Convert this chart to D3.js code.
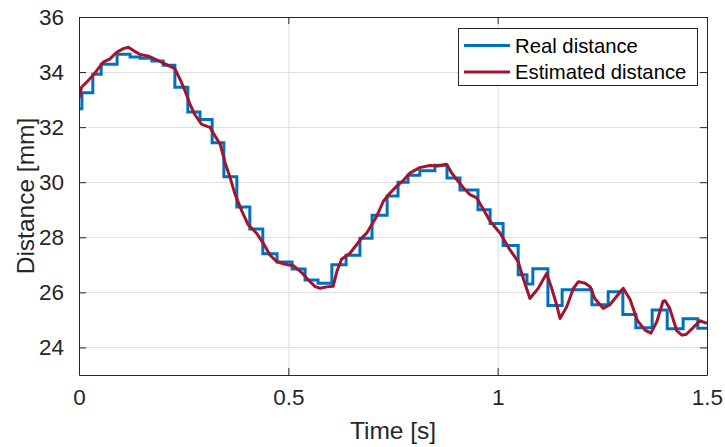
<!DOCTYPE html>
<html>
<head>
<meta charset="utf-8">
<script src="https://cdn.jsdelivr.net/npm/d3@7"></script>
<style>
  html, body { margin: 0; padding: 0; background: #fff; }
  svg { display: block; font-family: "Liberation Sans", Arial, Helvetica, sans-serif; }
</style>
</head>
<body>
<svg id="chart" width="725" height="447"></svg>
<script>
// ---- Data ----
const realTime = [0, 0.007, 0.033, 0.053, 0.091, 0.122, 0.146, 0.174, 0.201, 0.229, 0.260, 0.289, 0.318, 0.346, 0.377, 0.408, 0.439, 0.473, 0.509, 0.540, 0.571, 0.604, 0.638, 0.671, 0.700, 0.736, 0.762, 0.786, 0.814, 0.850, 0.879, 0.910, 0.953, 0.982, 1.013, 1.049, 1.070, 1.084, 1.120, 1.154, 1.189, 1.225, 1.264, 1.299, 1.330, 1.369, 1.405, 1.443, 1.478, 1.5];
const realDistance = [32.67, 33.25, 33.92, 34.28, 34.65, 34.55, 34.5, 34.4, 34.25, 33.45, 32.55, 32.28, 31.43, 30.2, 29.1, 28.3, 27.4, 27.1, 26.85, 26.45, 26.33, 27.0, 27.35, 27.97, 28.8, 29.5, 30.0, 30.25, 30.42, 30.62, 30.15, 29.72, 29.0, 28.5, 27.7, 26.64, 26.3, 26.86, 25.52, 26.1, 26.1, 25.55, 26.02, 25.2, 24.72, 25.36, 24.68, 25.04, 24.7, 24.7];

const estTime = [0, 0.006, 0.022, 0.038, 0.058, 0.074, 0.090, 0.106, 0.118, 0.130, 0.146, 0.166, 0.189, 0.209, 0.229, 0.241, 0.253, 0.265, 0.277, 0.293, 0.313, 0.325, 0.337, 0.349, 0.361, 0.373, 0.389, 0.404, 0.424, 0.440, 0.456, 0.472, 0.492, 0.512, 0.532, 0.548, 0.564, 0.576, 0.592, 0.607, 0.616, 0.627, 0.647, 0.663, 0.675, 0.687, 0.699, 0.711, 0.727, 0.743, 0.759, 0.775, 0.791, 0.814, 0.838, 0.858, 0.878, 0.890, 0.902, 0.918, 0.934, 0.950, 0.966, 0.982, 1.006, 1.029, 1.049, 1.061, 1.077, 1.097, 1.117, 1.129, 1.141, 1.149, 1.165, 1.181, 1.193, 1.209, 1.221, 1.232, 1.252, 1.268, 1.300, 1.316, 1.334, 1.352, 1.366, 1.380, 1.395, 1.400, 1.411, 1.428, 1.440, 1.450, 1.467, 1.483, 1.5];
const estDistance = [33.05, 33.45, 33.69, 33.97, 34.36, 34.48, 34.72, 34.85, 34.9, 34.78, 34.64, 34.58, 34.42, 34.27, 34.12, 33.75, 33.33, 32.84, 32.45, 32.1, 31.99, 31.68, 31.38, 30.71, 30.16, 29.55, 28.95, 28.46, 28.15, 27.79, 27.36, 27.12, 27.02, 26.97, 26.72, 26.45, 26.21, 26.15, 26.2, 26.22, 26.76, 27.2, 27.42, 27.73, 27.97, 28.15, 28.46, 28.76, 29.31, 29.61, 29.86, 30.07, 30.34, 30.53, 30.61, 30.59, 30.65, 30.34, 30.1, 29.8, 29.55, 29.43, 29.01, 28.58, 28.15, 27.55, 27.12, 26.51, 25.78, 26.15, 26.69, 26.15, 25.54, 25.05, 25.48, 26.15, 26.39, 26.33, 26.2, 25.78, 25.42, 25.55, 26.15, 25.75, 24.97, 24.63, 24.52, 24.93, 25.68, 25.7, 25.42, 24.6, 24.45, 24.47, 24.72, 24.97, 24.88];

const xTicks = [0, 0.5, 1, 1.5];
const xTickLabels = ["0", "0.5", "1", "1.5"];
const yTicks = [24, 26, 28, 30, 32, 34, 36];
const seriesNames = ["Real distance", "Estimated distance"];
const seriesColors = ["#0072BD", "#A2142F"];

// ---- Layout ----
const W = 725, H = 447;
const m = { left: 79, right: 18, top: 17, bottom: 72 };
const pw = W - m.left - m.right, ph = H - m.top - m.bottom;
const axisColor = "#262626";

const svg = d3.select("#chart");
const x = d3.scaleLinear().domain([0, 1.5]).range([m.left, m.left + pw]);
const y = d3.scaleLinear().domain([23, 36]).range([m.top + ph, m.top]);

svg.append("rect").attr("x", m.left).attr("y", m.top).attr("width", pw).attr("height", ph).attr("fill", "#fff");

// grid
const grid = svg.append("g");
grid.selectAll(".gx").data(xTicks.slice(1, -1)).join("line")
  .attr("x1", d => x(d) + 0.5).attr("x2", d => x(d) + 0.5)
  .attr("y1", m.top).attr("y2", m.top + ph)
  .attr("stroke", "#dfdfdf").attr("stroke-width", 1);
grid.selectAll(".gy").data(yTicks.filter(d => d < 36)).join("line")
  .attr("x1", m.left).attr("x2", m.left + pw)
  .attr("y1", d => Math.round(y(d)) + 0.5).attr("y2", d => Math.round(y(d)) + 0.5)
  .attr("stroke", "#dfdfdf").attr("stroke-width", 1);

// clip
svg.append("clipPath").attr("id", "clip").append("rect")
  .attr("x", m.left).attr("y", m.top).attr("width", pw).attr("height", ph);

const realData = realTime.map((t, i) => [t, realDistance[i]]);
const estData = estTime.map((t, i) => [t, estDistance[i]]);

const lineStep = d3.line().x(d => x(d[0])).y(d => y(d[1])).curve(d3.curveStepAfter);
const lineLin = d3.line().x(d => x(d[0])).y(d => y(d[1]));

const plot = svg.append("g").attr("clip-path", "url(#clip)");
plot.append("path").datum(realData).attr("d", lineStep)
  .attr("fill", "none").attr("stroke", seriesColors[0]).attr("stroke-width", 3).attr("stroke-linejoin", "miter");
plot.append("path").datum(estData).attr("d", lineLin)
  .attr("fill", "none").attr("stroke", seriesColors[1]).attr("stroke-width", 3).attr("stroke-linejoin", "round");

// axes (box with inward ticks)
const tickLen = 7;
const xAxisB = d3.axisBottom(x).tickValues(xTicks).tickFormat((d, i) => xTickLabels[i]).tickSizeInner(-tickLen).tickSizeOuter(0).tickPadding(14);
const xAxisT = d3.axisTop(x).tickValues(xTicks).tickFormat("").tickSizeInner(-tickLen).tickSizeOuter(0);
const yAxisL = d3.axisLeft(y).tickValues(yTicks).tickSizeInner(-tickLen).tickSizeOuter(0).tickPadding(15);
const yAxisR = d3.axisRight(y).tickValues(yTicks).tickFormat("").tickSizeInner(-tickLen).tickSizeOuter(0);

function styleAxis(g) {
  g.select(".domain").attr("stroke", axisColor).attr("stroke-width", 1);
  g.selectAll(".tick line").attr("stroke", axisColor).attr("stroke-width", 1);
  g.selectAll(".tick text").attr("fill", axisColor).style("font-size", "22.5px").style("font-family", "'Liberation Sans', Arial, sans-serif");
}
svg.append("g").attr("transform", `translate(0,${m.top + ph})`).call(xAxisB).call(styleAxis);
svg.append("g").attr("transform", `translate(0,${m.top})`).call(xAxisT).call(styleAxis);
svg.append("g").attr("transform", `translate(${m.left},0)`).call(yAxisL).call(styleAxis);
svg.append("g").attr("transform", `translate(${m.left + pw},0)`).call(yAxisR).call(styleAxis);

// axis labels
svg.append("text").attr("x", m.left + pw / 2).attr("y", 439).attr("text-anchor", "middle")
  .attr("fill", axisColor).style("font-size", "24.5px").text("Time [s]");
svg.append("text").attr("transform", `translate(34,${m.top + ph / 2}) rotate(-90)`).attr("text-anchor", "middle")
  .attr("fill", axisColor).style("font-size", "24.5px").text("Distance [mm]");

// legend
const lg = svg.append("g");
lg.append("rect").attr("x", 458.5).attr("y", 28.5).attr("width", 239).attr("height", 57)
  .attr("fill", "#fff").attr("stroke", axisColor).attr("stroke-width", 1);
const rows = [45.5, 72];
seriesNames.forEach((name, i) => {
  lg.append("line").attr("x1", 464).attr("x2", 510).attr("y1", rows[i]).attr("y2", rows[i])
    .attr("stroke", seriesColors[i]).attr("stroke-width", 3);
  lg.append("text").attr("x", 515).attr("y", rows[i] + 7).attr("fill", "#000")
    .style("font-size", "20.3px").text(name);
});
</script>
</body>
</html>
